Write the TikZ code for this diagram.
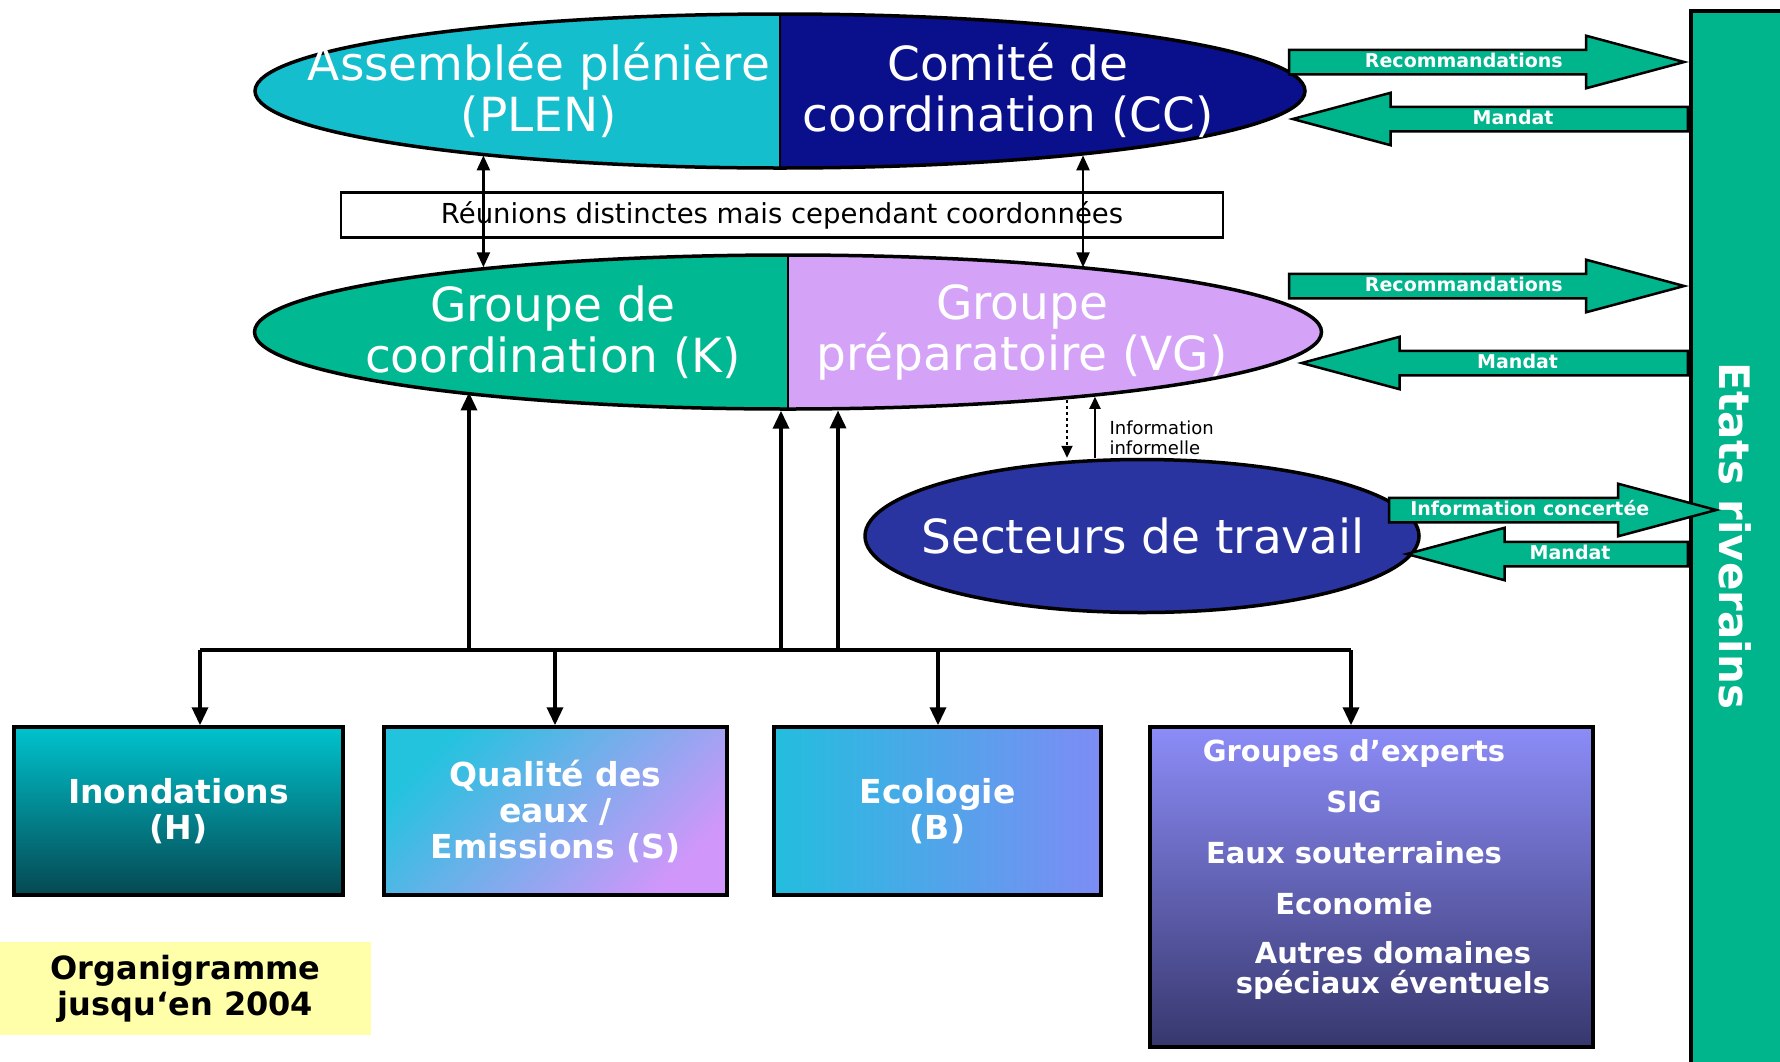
\documentclass[tikz,border=0pt]{standalone}
\usepackage{fontspec}
\setmainfont{DejaVu Sans}
\usetikzlibrary{arrows.meta,shapes.geometric,shapes.arrows}

\definecolor{plencol}{RGB}{20,190,205}
\definecolor{cccol}{RGB}{10,15,140}
\definecolor{kcol}{RGB}{0,184,145}
\definecolor{vgcol}{RGB}{212,162,246}
\definecolor{sectcol}{RGB}{42,52,160}
\definecolor{barcol}{RGB}{0,180,140}
\definecolor{notecol}{RGB}{255,255,170}

\tikzset{
	ellbox/.style={ellipse, draw, line width=3.5pt, inner sep=0pt},
	splitell/.style 2 args={path picture={
		\fill[#1] (path picture bounding box.south west) rectangle (path picture bounding box.north);
		\fill[#2] (path picture bounding box.south) rectangle (path picture bounding box.north east);
		\draw[line width=2pt] (path picture bounding box.south) -- (path picture bounding box.north);}},
	elltext/.style={text=white, font=\fontsize{47}{51}\selectfont, align=center},
	groupbox/.style={draw, line width=3.5pt, inner sep=0pt, text=white, font=\fontsize{33}{36}\selectfont\bfseries, align=center},
	fatarrow/.style={single arrow, draw, line width=2.5pt, fill=barcol, text=white, font=\fontsize{19}{19}\selectfont\bfseries, text height=14pt, text depth=3pt, inner ysep=2.5pt, inner xsep=2pt, single arrow head extend=14pt, single arrow tip angle=30},
	backarrow/.style={fatarrow, shape border rotate=180, anchor=tail},
	bus/.style={line width=3.5pt},
	busarrow/.style={line width=3.5pt, -{Triangle[length=18pt,width=16pt]}},
	twoway/.style={line width=2.5pt, {Triangle[length=15pt,width=13pt]}-{Triangle[length=15pt,width=13pt]}},
	infoarrow/.style={line width=2pt, -{Triangle[length=12pt,width=11pt]}}
}

\begin{document}
\begin{tikzpicture}[x=1pt,y=-1pt]
	\path[use as bounding box, fill=white] (0,0) rectangle (1780,1061);
	\node[draw, line width=3.5pt, fill=barcol, minimum width=95pt, minimum height=1058pt, anchor=north west, inner sep=0pt] (etats) at (1689,9) {};
	\node[rotate=-90, text=white, font=\fontsize{42}{42}\selectfont\bfseries] (etatslbl) at (1735,536) {Etats riverains};

	\node[ellbox, splitell={plencol}{cccol}, minimum width=1050pt, minimum height=154pt] (topell) at (780,91) {};
	\node[ellbox, splitell={kcol}{vgcol}, minimum width=1067pt, minimum height=154pt] (midell) at (788,332) {};
	\node[ellbox, fill=sectcol, minimum width=554pt, minimum height=153pt] (sect) at (1142,536) {};
	\node[elltext] (plen) at (539,90) {Assemblée plénière\\(PLEN)};
	\node[elltext] (cc) at (1008,90) {Comité de\\coordination (CC)};
	\node[elltext] (kgrp) at (553,332) {Groupe de\\coordination (K)};
	\node[elltext] (vg) at (1022,332) {Groupe\\préparatoire (VG)};
	\node[elltext] (sectlbl) at (1143,536) {Secteurs de travail};

	\node[draw, line width=2.5pt, fill=white, minimum width=882pt, minimum height=45pt, font=\fontsize{27.5}{27.5}\selectfont] (reunion) at (782,215) {Réunions distinctes mais cependant coordonnées};
	\draw[twoway] (midell.168.2 |- topell.192.2) -- (midell.168.2);
	\draw[twoway] (topell.348.2) -- (topell.348.2 |- midell.12.4);

	\node[fatarrow, anchor=tip, minimum height=395pt] (rec1) at (etats.west |- 0,62) {Recommandations};
	\node[backarrow, minimum height=395pt] (man1) at (etats.west |- 0,119) {Mandat};
	\node[fatarrow, anchor=tip, minimum height=395pt] (rec2) at (etats.west |- 0,286) {Recommandations};
	\node[backarrow, minimum height=386pt] (man2) at (etats.west |- 0,363) {Mandat};
	\node[fatarrow, anchor=tip, minimum height=327pt] (conc) at (1721,510) {Information concertée};
	\node[backarrow, minimum height=281pt] (man3) at (etats.west |- 0,554) {Mandat};

	\coordinate (i1) at (1067,0);
	\coordinate (i2) at (1095,0);
	\draw[infoarrow, dashed] (i1 |- midell.346.7) -- (i1 |- sect.north);
	\draw[infoarrow] (i2 |- sect.north) -- (i2 |- midell.348.4);
	\node[font=\fontsize{18}{20}\selectfont, align=left, anchor=west] (infolbl) at (1106,438) {Information\\informelle};

	\node[groupbox, top color={rgb,255:red,0;green,195;blue,205}, middle color={rgb,255:red,0;green,135;blue,145}, bottom color={rgb,255:red,5;green,72;blue,82}, minimum width=329pt, minimum height=168pt] (inond) at (178.5,811) {Inondations\\(H)};
	\node[groupbox, top color={rgb,255:red,35;green,195;blue,222}, bottom color={rgb,255:red,208;green,150;blue,250}, shading angle=45, minimum width=343pt, minimum height=168pt] (qual) at (555.5,811) {Qualité des\\eaux /\\Emissions (S)};
	\node[groupbox, left color={rgb,255:red,35;green,190;blue,222}, right color={rgb,255:red,125;green,140;blue,245}, minimum width=327pt, minimum height=168pt] (eco) at (937.5,811) {Ecologie\\(B)};
	\node[groupbox, top color={rgb,255:red,140;green,140;blue,248}, bottom color={rgb,255:red,55;green,55;blue,110}, minimum width=443pt, minimum height=320pt] (experts) at (1371.5,887) {};
	\node[text=white, font=\fontsize{29}{30}\selectfont\bfseries, align=center] (expertslbl) at (1354,827) {Groupes d'experts\\[21pt]SIG\\[21pt]Eaux souterraines\\[21pt]Economie};
	\node[text=white, font=\fontsize{29}{30}\selectfont\bfseries, align=center] (otherlbl) at (1393,970) {Autres domaines\\spéciaux éventuels};
	\node[fill=notecol, minimum width=371pt, minimum height=93pt, inner sep=0pt, font=\fontsize{32}{36}\selectfont\bfseries, align=center] (note) at (185.5,988.5) {Organigramme\\jusqu‘en 2004};

	\coordinate (b1) at (200,650);
	\coordinate (b2) at (555,650);
	\coordinate (b3) at (938,650);
	\coordinate (b4) at (1351,650);
	\coordinate (u1) at (469,650);
	\coordinate (u2) at (781,650);
	\coordinate (u3) at (838,650);
	\draw[bus] (b1) -- (b4);
	\draw[busarrow] (b1) -- (b1 |- inond.north);
	\draw[busarrow] (b2) -- (b2 |- qual.north);
	\draw[busarrow] (b3) -- (b3 |- eco.north);
	\draw[busarrow] (b4) -- (b4 |- experts.north);
	\draw[busarrow] (u1) -- (u1 |- midell.190.9);
	\draw[busarrow] (u2) -- (u2 |- midell.264.4);
	\draw[busarrow] (u3) -- (u3 |- midell.302.9);
\end{tikzpicture}
\end{document}
